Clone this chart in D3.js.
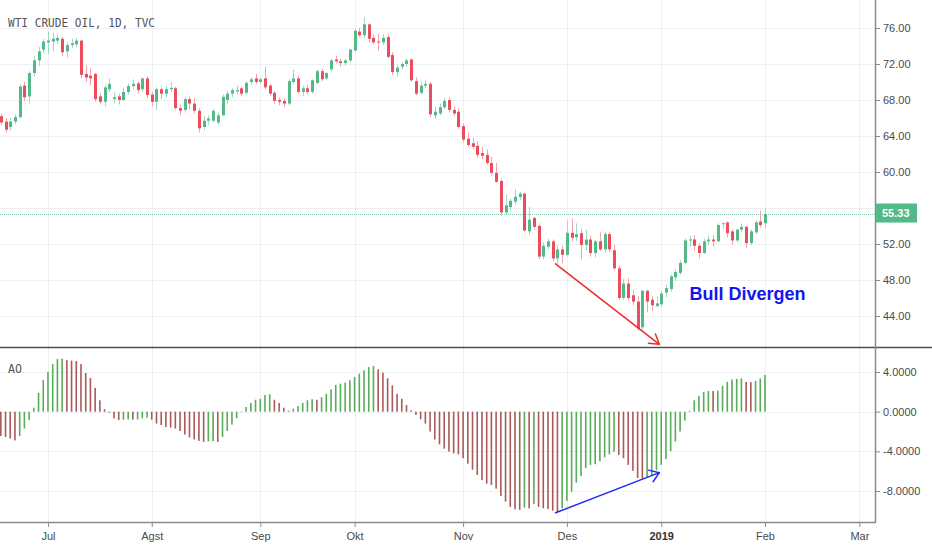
<!DOCTYPE html>
<html>
<head>
<meta charset="utf-8">
<script src="https://cdn.jsdelivr.net/npm/d3@7"></script>
<style>
  body { margin: 0; background: #fff; }
  svg { display: block; }
  .axis text { font-family: "Liberation Sans", Arial, sans-serif; font-size: 11px; fill: #4a4a4a; }
  .axis line { stroke: #8c8c8c; }
</style>
</head>
<body>
<div id="chart"></div>
<script>
"use strict"

// daily bars 18 Jun 2018 .. 1 Feb 2019, TVC only closed on xmas and new year
var firstDay = '2018-06-18',
  lastAxisDay = '2019-03-01',
  closedDays = ['2018-12-25', '2019-01-01'];

var open = [66.2, 65.6, 65.0, 65.6, 66.1, 69.6, 68.4, 71.0, 72.4, 73.6,
  74.4, 74.5, 74.6, 74.8, 73.4, 74.1, 74.2, 74.6, 70.9, 70.7,
  70.9, 68.4, 67.8, 69.2, 68.1, 68.4, 68.0, 68.9, 69.55, 69.85,
  69.2, 70.4, 68.6, 67.8, 69.2, 68.7, 69.2, 69.3, 67.1, 66.9,
  68.1, 67.6, 66.8, 65.0, 65.7, 65.7, 65.5, 66.3, 68.0, 68.7,
  68.95, 69.3, 68.8, 70.0, 70.4, 70.0, 70.4, 69.6, 68.8, 68.0,
  67.9, 67.6, 70.0, 70.4, 68.9, 69.3, 68.9, 69.9, 71.2, 70.4,
  71.4, 72.5, 72.3, 72.1, 72.4, 73.5, 75.6, 75.2, 76.4, 74.9,
  74.5, 74.4, 75.0, 73.0, 71.1, 71.7, 72.0, 72.5, 70.1, 68.8,
  69.6, 69.8, 66.3, 66.5, 67.2, 68.0, 66.9, 66.7, 65.1, 63.7,
  63.2, 62.9, 62.1, 61.9, 61.0, 59.9, 59.0, 55.5, 56.1, 56.7,
  57.2, 57.6, 53.4, 54.9, 54.0, 50.6, 51.7, 52.3, 50.4, 51.4,
  50.8, 53.25, 52.75, 53.2, 51.9, 52.5, 51.0, 52.3, 51.4, 53.1,
  51.3, 49.3, 46.0, 47.6, 46.3, 45.6, 42.75, 46.8, 45.8, 45.1,
  45.3, 46.6, 47.0, 48.3, 48.8, 49.9, 52.4, 52.5, 51.8, 51.0,
  52.3, 52.5, 52.3, 54.2, 54.4, 53.4, 52.4, 53.6, 53.9, 52.1,
  53.3, 54.5, 54.3];

var high = [66.5, 66.0, 66.0, 66.4, 69.7, 70.0, 71.2, 72.9, 73.9, 74.8,
  75.6, 75.5, 75.3, 75.0, 74.4, 74.8, 74.9, 74.7, 71.8, 71.5,
  71.0, 68.8, 69.7, 70.4, 68.9, 68.7, 69.4, 69.8, 70.3, 70.1,
  70.5, 70.6, 68.9, 69.4, 69.4, 69.6, 70.0, 69.5, 67.5, 68.3,
  68.4, 68.2, 67.1, 66.2, 66.3, 67.0, 66.6, 68.6, 69.0, 69.3,
  69.6, 69.5, 70.1, 70.5, 70.9, 70.5, 71.7, 69.8, 69.0, 68.3,
  68.2, 70.3, 71.4, 70.7, 69.6, 69.7, 70.3, 71.4, 71.5, 71.1,
  72.6, 72.9, 72.6, 72.5, 73.7, 75.9, 76.0, 77.2, 76.5, 75.3,
  75.4, 75.3, 75.3, 73.3, 71.9, 72.2, 72.6, 72.6, 70.5, 70.0,
  70.2, 70.0, 67.3, 67.6, 68.2, 68.3, 67.3, 67.1, 65.4, 64.4,
  63.8, 63.4, 62.8, 62.5, 61.7, 61.0, 59.3, 57.5, 57.0, 58.1,
  57.8, 57.7, 56.1, 55.0, 54.3, 52.2, 52.6, 52.5, 51.9, 51.8,
  54.6, 54.85, 54.3, 53.7, 53.6, 52.9, 52.5, 53.3, 53.4, 53.3,
  51.9, 49.6, 48.1, 48.2, 46.9, 46.2, 46.9, 46.9, 46.2, 46.2,
  46.8, 47.5, 48.6, 49.2, 50.2, 52.6, 52.9, 53.0, 52.1, 52.6,
  52.9, 53.0, 54.3, 54.4, 54.5, 53.6, 53.7, 54.3, 54.0, 53.6,
  54.6, 55.7, 56.0];

var low = [65.2, 64.4, 64.6, 65.3, 65.9, 67.9, 67.6, 70.6, 71.8, 73.2,
  73.1, 73.4, 74.2, 72.9, 72.7, 73.8, 73.9, 70.4, 70.0, 69.6,
  67.8, 67.5, 67.3, 68.9, 67.6, 67.5, 67.9, 68.6, 69.2, 68.7,
  68.9, 68.2, 67.3, 66.9, 68.1, 68.3, 68.9, 66.9, 66.3, 66.6,
  67.0, 66.5, 64.4, 64.6, 65.2, 65.5, 65.3, 66.2, 67.5, 68.3,
  68.6, 68.4, 68.6, 69.7, 69.8, 69.8, 69.2, 68.5, 67.6, 67.4,
  67.2, 67.4, 69.8, 68.7, 68.4, 68.6, 68.7, 69.7, 70.1, 70.2,
  71.2, 72.1, 71.7, 71.8, 72.2, 73.4, 75.0, 74.9, 74.4, 74.2,
  73.5, 74.1, 72.6, 70.8, 70.6, 71.4, 71.7, 70.0, 68.5, 68.6,
  69.3, 66.1, 65.9, 66.3, 67.0, 66.6, 66.2, 64.8, 63.3, 62.8,
  62.5, 61.6, 61.4, 60.8, 59.6, 58.8, 55.2, 55.3, 55.6, 56.3,
  56.9, 53.3, 53.0, 53.6, 50.3, 50.3, 51.4, 50.1, 49.8, 49.9,
  50.6, 52.3, 52.3, 50.3, 51.3, 50.6, 50.5, 51.2, 51.0, 51.1,
  49.1, 45.8, 45.8, 45.7, 45.2, 42.4, 42.4, 44.4, 44.6, 44.9,
  45.0, 46.1, 46.7, 47.9, 48.6, 49.8, 51.7, 51.3, 50.4, 50.9,
  51.9, 51.7, 52.2, 53.7, 52.7, 51.9, 52.2, 53.3, 51.6, 51.9,
  53.1, 53.8, 53.8];

var close = [65.5, 64.7, 65.6, 66.1, 69.5, 68.3, 71.0, 72.4, 73.4, 74.5,
  74.6, 74.8, 74.9, 73.3, 74.1, 74.3, 74.6, 70.8, 70.5, 70.4,
  68.1, 67.8, 69.4, 69.8, 68.3, 68.0, 68.9, 69.55, 69.8, 69.1,
  70.4, 68.55, 67.8, 69.2, 68.7, 69.2, 69.35, 67.1, 66.8, 68.1,
  67.6, 66.8, 64.85, 65.7, 65.95, 66.8, 66.3, 68.35, 68.7, 69.1,
  69.1, 68.7, 69.9, 70.3, 70.0, 70.3, 69.4, 68.7, 67.9, 67.8,
  67.6, 70.1, 70.4, 68.9, 69.3, 68.9, 70.2, 71.2, 70.3, 71.0,
  72.4, 72.3, 72.1, 72.4, 73.6, 75.7, 75.2, 76.4, 74.8, 74.4,
  74.4, 74.9, 72.8, 71.1, 71.6, 72.0, 72.4, 70.2, 68.7, 69.6,
  69.8, 66.4, 66.7, 67.2, 67.9, 66.9, 66.5, 65.0, 63.6, 63.0,
  62.8, 61.9, 61.8, 61.0, 59.9, 58.9, 55.5, 56.3, 56.8, 57.25,
  57.6, 53.5, 54.7, 53.9, 50.6, 51.8, 52.3, 50.4, 51.4, 50.8,
  53.25, 52.7, 53.1, 51.9, 52.5, 51.0, 52.3, 51.4, 53.1, 51.4,
  49.3, 46.0, 47.6, 46.0, 45.6, 42.6, 46.8, 45.6, 45.2, 45.4,
  46.5, 47.1, 48.4, 48.9, 49.9, 52.4, 52.5, 51.8, 51.0, 52.3,
  52.5, 52.3, 54.1, 54.3, 53.2, 52.4, 53.6, 53.9, 52.1, 53.4,
  54.4, 54.1, 55.33];

// awesome oscillator, one value per bar
var ao = [-2.45, -2.55, -2.7, -2.9, -2.45, -1.7, -0.84, 0.4, 1.9, 3.2,
  4.0, 4.8, 5.3, 5.35, 5.2, 5.15, 5.1, 4.8, 3.9, 3.4,
  2.4, 1.15, 0.25, -0.1, -0.67, -0.84, -0.82, -0.78, -0.8, -0.78,
  -0.67, -0.6, -0.8, -1.2, -1.35, -1.55, -1.6, -1.7, -1.95, -2.3,
  -2.6, -2.8, -2.95, -3.05, -3.0, -2.98, -3.05, -2.55, -1.95, -1.3,
  -0.67, -0.05, 0.47, 0.88, 1.2, 1.3, 1.68, 1.75, 1.2, 0.88,
  0.4, 0.1, 0.3, 0.55, 0.88, 1.15, 1.25, 1.2, 1.45, 1.8,
  2.25, 2.7, 2.82, 2.92, 3.16, 3.5, 3.83, 4.17, 4.5, 4.6,
  4.27, 3.93, 3.36, 2.65, 1.8, 1.3, 0.67, 0.13, -0.33, -0.77,
  -1.2, -2.0, -2.8, -3.3, -3.73, -4.03, -4.2, -4.3, -4.7, -5.24,
  -5.85, -6.38, -6.9, -7.26, -7.4, -7.76, -8.5, -9.07, -9.6, -9.85,
  -9.9, -9.68, -9.75, -9.3, -9.6, -9.74, -9.82, -9.98, -10.14, -9.74,
  -9.0, -8.07, -7.16, -6.5, -5.7, -5.37, -5.3, -5.0, -4.6, -4.3,
  -4.03, -4.36, -4.7, -5.37, -5.97, -6.7, -6.77, -6.6, -6.45, -5.9,
  -5.37, -4.8, -3.97, -3.0, -2.0, -0.9, 0.1, 1.15, 1.6, 2.0,
  2.1, 2.08, 2.12, 2.6, 3.0, 3.25, 3.3, 3.35, 3.0, 2.98,
  3.1, 3.35, 3.7];
var aoBefore = -2.3; // bar just left of the window, only used for colour

var priceTicks = [44, 48, 52, 56, 60, 64, 68, 72, 76];
var aoTicks = [-8, -4, 0, 4];
// Jan is shown as the year
var monthLabels = ['2019', 'Feb', 'Mar', 'Apr', 'Mei', 'Jun', 'Jul', 'Agst', 'Sep', 'Okt', 'Nov', 'Des'];
var lastPrice = 55.33;

// divergence annotation: bar index and value at each end
var divIdx = [117.6, 139.6],
  divPrice = [49.8, 40.85],
  divAO = [-10.2, -6.15];
var labelIdx = 146, labelPrice = 45.8;


var width = 932,
  height = 550,
  plotW = 875,   // right price scale starts here
  priceBottom = 347,
  aoTop = 348,
  aoBottom = 522;

var upColor = '#53b987', downColor = '#eb4d5c',
  upWick = '#a3d9bf', downWick = '#f4a3ab',
  aoUp = '#59ac59', aoDown = '#ac5959',
  gridColor = '#edf1f4';

// trading days (weekdays minus closed days), extended to the last axis label
var days = [];
var end = new Date(lastAxisDay + 'T00:00:00Z');
for (var d = new Date(firstDay + 'T00:00:00Z'); d <= end; d.setUTCDate(d.getUTCDate() + 1)) {
  var wd = d.getUTCDay();
  if (wd === 0 || wd === 6) continue;
  if (closedDays.indexOf(d.toISOString().slice(0, 10)) >= 0) continue;
  days.push(new Date(d));
}

// first bar of each month
var monthIdx = [];
for (var i = 1; i < days.length; i++) {
  if (days[i].getUTCMonth() !== days[i - 1].getUTCMonth()) monthIdx.push(i);
}

var svg = d3.select('#chart').append('svg')
  .attr('width', width)
  .attr('height', height);

var defs = svg.append('defs');
defs.append('clipPath').attr('id', 'clipPrice')
  .append('rect').attr('x', 0).attr('y', 0).attr('width', plotW).attr('height', priceBottom);
defs.append('clipPath').attr('id', 'clipAO')
  .append('rect').attr('x', 0).attr('y', aoTop).attr('width', plotW).attr('height', aoBottom - aoTop);

var x = d3.scaleLinear()
  .domain([0, close.length - 1])
  .range([0.8, 765]);

var yPrice = d3.scaleLinear()
  .domain([44, 76])
  .range([316, 28]);

var yAO = d3.scaleLinear()
  .domain([-8, 4])
  .range([491, 372]);

var px = v => Math.round(v) + 0.5;

// grid
var grid = svg.append('g').attr('stroke', gridColor).attr('stroke-width', 1);
grid.selectAll('.vgrid').data(monthIdx).enter().append('line')
  .attr('x1', d => px(x(d))).attr('x2', d => px(x(d)))
  .attr('y1', 0).attr('y2', aoBottom);
grid.selectAll('.pgrid').data(priceTicks).enter().append('line')
  .attr('x1', 0).attr('x2', plotW)
  .attr('y1', d => px(yPrice(d))).attr('y2', d => px(yPrice(d)));
grid.selectAll('.agrid').data(aoTicks).enter().append('line')
  .attr('x1', 0).attr('x2', plotW)
  .attr('y1', d => px(yAO(d))).attr('y2', d => px(yAO(d)));

// last price line
svg.append('line')
  .attr('x1', 0).attr('x2', plotW)
  .attr('y1', px(yPrice(lastPrice))).attr('y2', px(yPrice(lastPrice)))
  .attr('stroke', upColor)
  .attr('stroke-opacity', 0.75)
  .attr('stroke-dasharray', '1,1');

// candles
var bars = d3.range(close.length);
var candles = svg.append('g').attr('clip-path', 'url(#clipPrice)');

candles.selectAll('.wick').data(bars).enter().append('rect')
  .attr('class', 'wick')
  .attr('x', i => Math.round(x(i)))
  .attr('y', i => yPrice(high[i]))
  .attr('width', 1)
  .attr('height', i => yPrice(low[i]) - yPrice(high[i]))
  .attr('fill', i => close[i] >= open[i] ? upWick : downWick);

candles.selectAll('.body').data(bars).enter().append('rect')
  .attr('class', 'body')
  .attr('x', i => Math.round(x(i)) - 1)
  .attr('y', i => yPrice(Math.max(open[i], close[i])))
  .attr('width', 3)
  .attr('height', i => Math.max(1, Math.abs(yPrice(open[i]) - yPrice(close[i]))))
  .attr('fill', i => close[i] >= open[i] ? upColor : downColor);

// AO histogram, green when rising
var aoG = svg.append('g').attr('clip-path', 'url(#clipAO)');
aoG.selectAll('rect').data(bars).enter().append('rect')
  .attr('x', i => x(i) - 0.8)
  .attr('width', 1.6)
  .attr('y', i => Math.min(yAO(ao[i]), yAO(0)))
  .attr('height', i => Math.abs(yAO(ao[i]) - yAO(0)))
  .attr('fill', i => ao[i] >= (i ? ao[i - 1] : aoBefore) ? aoUp : aoDown);

// pane separator and scale borders
svg.append('line')
  .attr('x1', 0).attr('x2', width)
  .attr('y1', priceBottom + 0.5).attr('y2', priceBottom + 0.5)
  .attr('stroke', '#505050').attr('stroke-width', 1.5);
svg.append('line')
  .attr('x1', plotW + 0.5).attr('x2', plotW + 0.5)
  .attr('y1', 0).attr('y2', aoBottom + 1)
  .attr('stroke', '#8c8c8c').attr('stroke-width', 1.5);
svg.append('line')
  .attr('x1', 0).attr('x2', plotW + 1)
  .attr('y1', aoBottom + 0.5).attr('y2', aoBottom + 0.5)
  .attr('stroke', '#8c8c8c').attr('stroke-width', 1.5);

// axes
svg.append('g')
  .attr('class', 'axis')
  .attr('transform', 'translate(' + (plotW + 1) + ',0)')
  .call(d3.axisRight(yPrice).tickValues(priceTicks).tickSize(4).tickPadding(3)
    .tickFormat(d => d.toFixed(2)))
  .call(g => g.select('.domain').remove());

svg.append('g')
  .attr('class', 'axis')
  .attr('transform', 'translate(' + (plotW + 1) + ',0)')
  .call(d3.axisRight(yAO).tickValues(aoTicks).tickSize(4).tickPadding(3)
    .tickFormat(d => d.toFixed(4)))
  .call(g => g.select('.domain').remove());

var timeAxis = svg.append('g')
  .attr('class', 'axis')
  .attr('transform', 'translate(0,' + (aoBottom + 1) + ')')
  .call(d3.axisBottom(x).tickValues(monthIdx).tickSize(4).tickPadding(5)
    .tickFormat(i => monthLabels[days[i].getUTCMonth()]))
  .call(g => g.select('.domain').remove());
timeAxis.selectAll('text')
  .filter(i => days[i].getUTCMonth() === 0)
  .attr('font-weight', 'bold')
  .style('fill', '#333');

// last price badge
var lp = yPrice(lastPrice) - 1;
svg.append('rect')
  .attr('x', plotW + 1).attr('y', lp - 9.5)
  .attr('width', 41).attr('height', 19)
  .attr('fill', upColor);
svg.append('text')
  .attr('x', plotW + 7).attr('y', lp)
  .attr('dy', '0.35em')
  .attr('font-family', '"Liberation Sans", Arial, sans-serif')
  .attr('font-size', 11)
  .attr('font-weight', 'bold')
  .attr('fill', '#fff')
  .text(lastPrice.toFixed(2));

// legends
svg.append('text')
  .attr('x', 8).attr('y', 26.5)
  .attr('font-family', '"DejaVu Sans Mono", monospace')
  .attr('font-size', 13)
  .attr('textLength', 147)
  .attr('lengthAdjust', 'spacingAndGlyphs')
  .attr('fill', '#555')
  .text('WTI CRUDE OIL, 1D, TVC');

svg.append('text')
  .attr('x', 8).attr('y', 373)
  .attr('font-family', '"DejaVu Sans Mono", monospace')
  .attr('font-size', 13)
  .attr('textLength', 14)
  .attr('lengthAdjust', 'spacingAndGlyphs')
  .attr('fill', '#555')
  .text('AO');

// divergence arrows
function arrow(x1, y1, x2, y2, color, spread) {
  var g = svg.append('g').attr('stroke', color).attr('stroke-width', 1.5).attr('stroke-linecap', 'round');
  g.append('line').attr('x1', x1).attr('y1', y1).attr('x2', x2).attr('y2', y2);
  var a = Math.atan2(y2 - y1, x2 - x1), len = 11;
  [-1, 1].forEach(s => {
    g.append('line')
      .attr('x1', x2).attr('y1', y2)
      .attr('x2', x2 - len * Math.cos(a + s * spread))
      .attr('y2', y2 - len * Math.sin(a + s * spread));
  });
}

arrow(x(divIdx[0]), yPrice(divPrice[0]), x(divIdx[1]), yPrice(divPrice[1]), '#f02a2a', 0.55);
arrow(x(divIdx[0]), yAO(divAO[0]), x(divIdx[1]), yAO(divAO[1]), '#1f2ff0', 0.6);

svg.append('text')
  .attr('x', x(labelIdx)).attr('y', yPrice(labelPrice))
  .attr('font-family', '"Liberation Sans", Arial, sans-serif')
  .attr('font-size', 18)
  .attr('font-weight', 'bold')
  .attr('fill', '#1414f0')
  .text('Bull Divergen');
</script>
</body>
</html>
